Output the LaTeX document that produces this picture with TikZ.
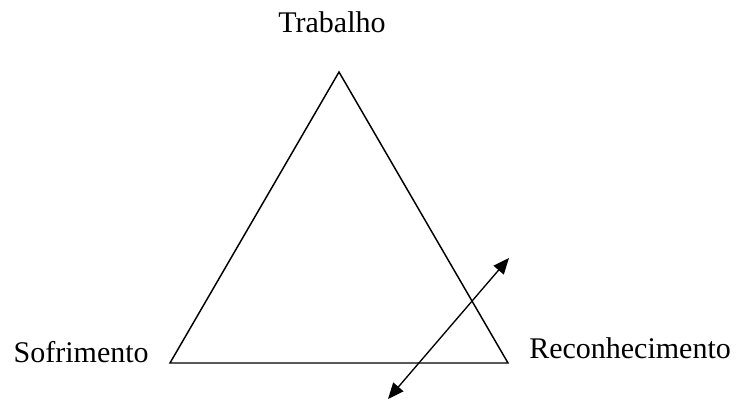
\documentclass[tikz,border=0pt]{standalone}
\usepackage{fontspec}
\setmainfont{Liberation Serif}
\usetikzlibrary{arrows.meta,positioning}

\begin{document}
\begin{tikzpicture}[x=0.75pt,y=-0.75pt,
    lbl/.style={font=\fontsize{22.5}{27}\selectfont,inner sep=0pt},
    side/.style={line width=1.1pt,line join=miter},
    dbl/.style={{Triangle[length=12pt,width=10pt]}-{Triangle[length=12pt,width=10pt]},line width=1pt}]
  \useasboundingbox (0,0) rectangle (739,403);
  %% Vertices of the triangle
  \coordinate (trab) at (339,72);
  \coordinate (sofr) at (170,363);
  \coordinate (reco) at (508,363);
  %% Labels
  \node[lbl,anchor=base] (trablbl) at (332,33) {Trabalho};
  \node[lbl,anchor=base east] (sofrlbl) at (149,362) {Sofrimento};
  \node[lbl,anchor=base west] (recolbl) at (529,358) {Reconhecimento};
  %% Triangle
  \draw[side] (trab)--(sofr)--(reco)--cycle;
  %% Double-headed arrow across the right corner
  \coordinate (arrlo) at (388,399);
  \coordinate (arrhi) at (509,258);
  \draw[dbl] (arrlo)--(arrhi);
\end{tikzpicture}
\end{document}
